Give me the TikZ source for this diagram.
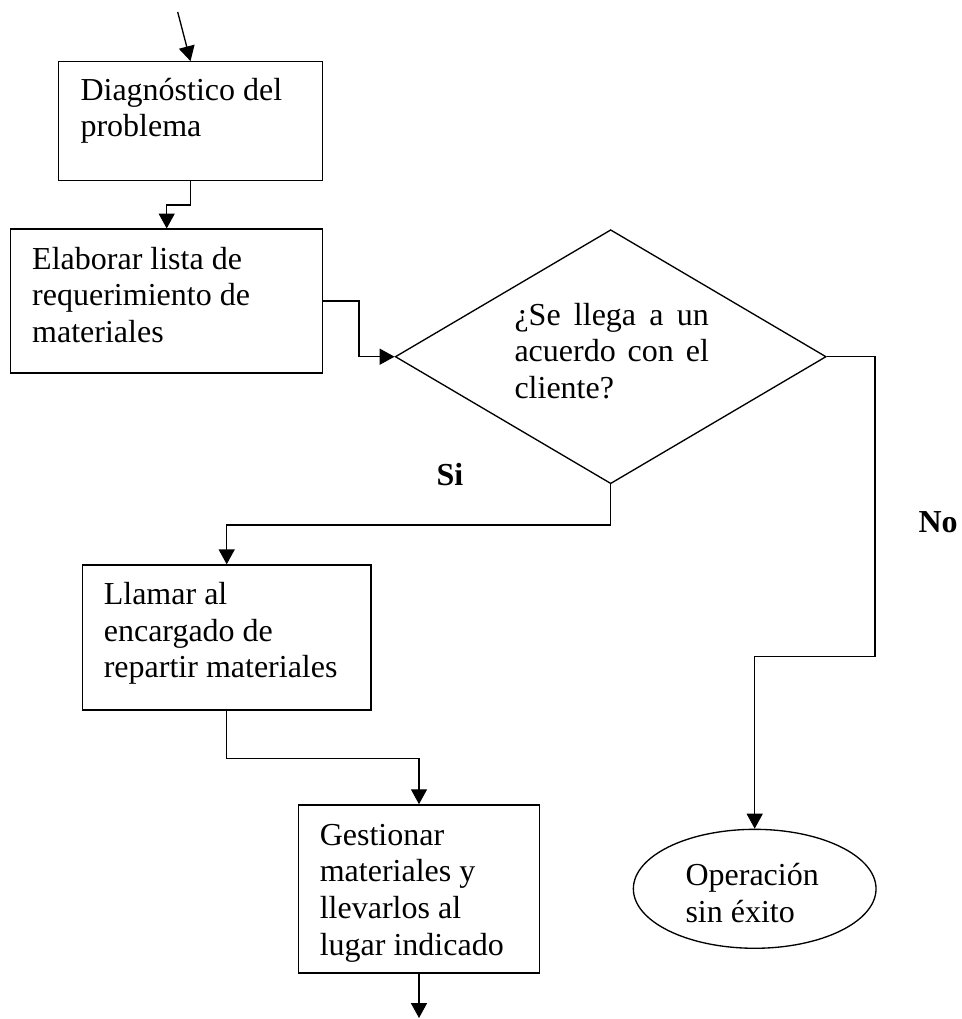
\documentclass[tikz,border=0pt]{standalone}
\usepackage{fontspec}
\setmainfont{Liberation Serif}
\usetikzlibrary{shapes.geometric,arrows.meta}

\tikzset{
  conn/.style={line width=0.5pt, -{Triangle[length=5.6pt,width=6pt]}},
  plain/.style={line width=0.5pt},
  procbox/.style={draw, line width=0.5pt, rectangle, inner sep=0pt},
  decbox/.style={draw, line width=0.5pt, diamond, inner sep=0pt, aspect=1.7},
  endbox/.style={draw, line width=0.5pt, ellipse, inner sep=0pt},
  txt/.style={anchor=base west, inner sep=0pt, font=\fontsize{12pt}{13.8pt}\selectfont},
  lbl/.style={anchor=base west, inner sep=0pt, font=\fontsize{12pt}{13.8pt}\selectfont\bfseries}
}

\begin{document}
\begin{tikzpicture}[x=0.375pt, y=-0.375pt]
  \useasboundingbox (0,0) rectangle (962,1019);

  % shapes
  \node[procbox, minimum width=99.15pt, minimum height=44.4pt] (b1) at (190.5,121) {};
  \node[procbox, minimum width=117pt, minimum height=53.9pt] (b2) at (166.7,301) {};
  \node[decbox, minimum width=161.6pt, minimum height=95.25pt] (dec) at (610.7,356.7) {};
  \node[procbox, minimum width=108.3pt, minimum height=54.4pt] (b3) at (226.7,637.5) {};
  \node[procbox, minimum width=90.2pt, minimum height=63.1pt] (b4) at (419,889) {};
  \node[endbox, minimum width=91pt, minimum height=44.6pt] (endop) at (754.7,888.8) {};

  % texts
  \node[txt] (t1) at (80,100) {\parbox[t]{200pt}{Diagnóstico del\\problema}};
  \node[txt] (t2) at (31.7,269) {\parbox[t]{200pt}{Elaborar lista de\\requerimiento de\\materiales}};
  \node[txt] (t3) at (514,325) {\parbox[t]{72.9pt}{%
      \makebox[72.9pt][s]{¿Se llega a un}\\
      \makebox[72.9pt][s]{acuerdo con el}\\
      cliente?}};
  \node[txt] (t4) at (103.3,604.3) {\parbox[t]{200pt}{Llamar al\\encargado de\\repartir materiales}};
  \node[txt] (t5) at (319.3,845) {\parbox[t]{200pt}{Gestionar\\materiales y\\llevarlos al\\lugar indicado}};
  \node[txt] (t6) at (685,885.5) {\parbox[t]{200pt}{Operación\\sin éxito}};

  \node[lbl] (si) at (436,485) {Si};
  \node[lbl] (no) at (918,532) {No};

  % free ends
  \coordinate (start) at (177.7,12);
  \coordinate (exit) at (419,1018);

  % connectors
  \draw[conn] (start) -- (b1.north);
  \draw[conn] (b1.south) -- ++(0,24) -| (b2.north);
  \draw[conn] (b2.east) -- ++(35.5,0) |- (dec.west);
  \draw[conn] (dec.south) -- ++(0,40.5) -| (b3.north);
  \draw[conn] (b3.south) -- ++(0,47.5) -| (b4.north);
  \draw[conn] (b4.south) -- (exit);
  \draw[conn] (dec.east) -- ++(48,0) -- ++(0,300) -| (endop.north);
\end{tikzpicture}
\end{document}
